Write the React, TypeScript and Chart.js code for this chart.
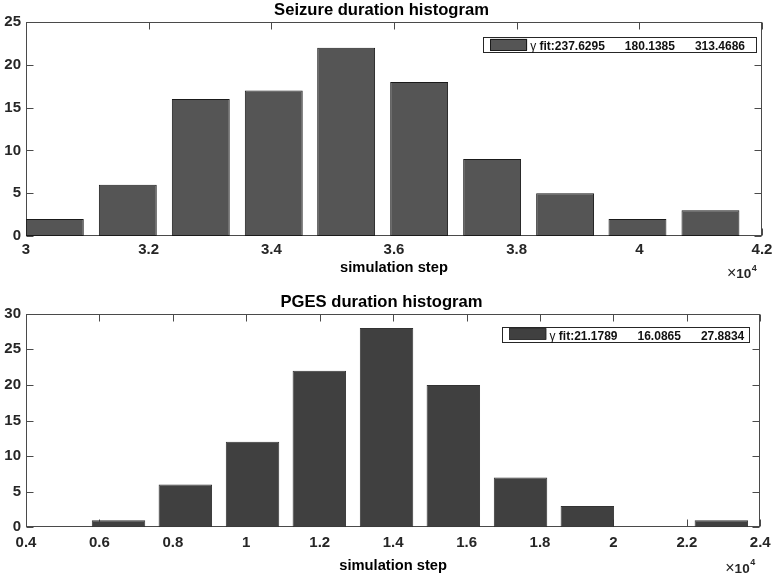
import React, { useEffect, useRef } from 'react';
import { Chart, registerables } from 'chart.js';

Chart.register(...registerables);

// ---------- data ----------
const seizureTitle = 'Seizure duration histogram';
const seizureBinCenters = [3.047, 3.166, 3.285, 3.404, 3.522, 3.641, 3.76, 3.879, 3.997, 4.116];
const seizureCounts = [2, 6, 16, 17, 22, 18, 9, 5, 2, 3];
const seizureFit = [237.6295, 180.1385, 313.4686];
const seizureXTicks = [3, 3.2, 3.4, 3.6, 3.8, 4, 4.2];
const seizureYTicks = [0, 5, 10, 15, 20, 25];

const pgesTitle = 'PGES duration histogram';
const pgesBinCenters = [0.469, 0.652, 0.834, 1.017, 1.199, 1.382, 1.564, 1.747, 1.929, 2.112, 2.294];
const pgesCounts = [0, 1, 6, 12, 22, 28, 20, 7, 3, 0, 1];
const pgesFit = [21.1789, 16.0865, 27.8834];
const pgesXTicks = [0.4, 0.6, 0.8, 1, 1.2, 1.4, 1.6, 1.8, 2, 2.2, 2.4];
const pgesYTicks = [0, 5, 10, 15, 20, 25, 30];

const xLabel = 'simulation step';
const xExponent = '4';

// ---------- styles ----------
const FONT = "Arial, 'Liberation Sans', Helvetica, sans-serif";
const TEXT = '#262626';
const AXIS = '#4a4a4a';

type Cfg = {
  title: string;
  centers: number[];
  counts: number[];
  fit: number[];
  xTicks: number[];
  yTicks: number[];
  fill: string;
  edge: string;
  titlePad: { top: number; bottom: number };
  xScaleHeight: number;
  xTickPad: number;
  xTitlePad: number;
  legendInsetRight: number;
  legendInsetTop: number;
  legendPadRight: number;
  expBaseline: number;
};

const fmt = (v: number) => String(Number(Number(v).toFixed(3)));

function makePlugin(cfg: Cfg) {
  return {
    id: 'matlabDecor',
    beforeDatasetsDraw(chart: any) {
      const { ctx, chartArea } = chart;
      const L = Math.round(chartArea.left) + 0.5;
      const R = Math.round(chartArea.right) - 0.5;
      const T = Math.round(chartArea.top) + 0.5;
      const B = Math.round(chartArea.bottom) - 0.5;
      ctx.save();
      ctx.strokeStyle = AXIS;
      ctx.lineWidth = 1;
      const tl = 7;
      const xs = chart.scales.x;
      const ys = chart.scales.y;
      ctx.beginPath();
      xs.ticks.forEach((t: any) => {
        const p = Math.round(xs.getPixelForValue(t.value)) + 0.5;
        ctx.moveTo(p, B);
        ctx.lineTo(p, B - tl);
        ctx.moveTo(p, T);
        ctx.lineTo(p, T + tl);
      });
      ys.ticks.forEach((t: any) => {
        const p = Math.round(ys.getPixelForValue(t.value)) + 0.5;
        ctx.moveTo(L, p);
        ctx.lineTo(L + tl, p);
        ctx.moveTo(R, p);
        ctx.lineTo(R - tl, p);
      });
      ctx.stroke();
      ctx.strokeRect(L, T, R - L, B - T);
      ctx.restore();
    },
    afterDraw(chart: any) {
      const { ctx, chartArea } = chart;
      ctx.save();
      // legend
      const ds = chart.data.datasets[0];
      const bold = `bold 12px ${FONT}`;
      const normal = `12px ${FONT}`;
      ctx.font = normal;
      const gamma = '\u03b3';
      const gW = ctx.measureText(gamma + ' ').width;
      ctx.font = bold;
      const parts = [`fit:${cfg.fit[0].toFixed(4)}`, cfg.fit[1].toFixed(4), cfg.fit[2].toFixed(4)];
      const widths = parts.map((p) => ctx.measureText(p).width);
      const gap = 20;
      const textW = gW + widths[0] + gap + widths[1] + gap + widths[2];
      const swL = 7, swW = 37, swGap = 3;
      const boxW = swL + swW + swGap + textW + cfg.legendPadRight;
      const boxR = chartArea.right - cfg.legendInsetRight;
      const boxL = boxR - boxW;
      const boxT = chartArea.top + cfg.legendInsetTop;
      const boxH = 15.4;
      ctx.fillStyle = '#ffffff';
      ctx.fillRect(boxL, boxT, boxW, boxH);
      ctx.strokeStyle = '#262626';
      ctx.lineWidth = 1;
      ctx.strokeRect(Math.round(boxL) + 0.5, Math.round(boxT) + 0.5, Math.round(boxW), Math.round(boxH));
      ctx.fillStyle = ds.backgroundColor;
      ctx.fillRect(boxL + swL, boxT + 1.5, swW, 11.5);
      ctx.strokeStyle = ds.borderColor;
      ctx.strokeRect(Math.round(boxL + swL) + 0.5, Math.round(boxT + 1.5) + 0.5, swW - 1, 11);
      let x = boxL + swL + swW + swGap;
      const base = boxT + 13;
      ctx.fillStyle = '#111111';
      ctx.textBaseline = 'alphabetic';
      ctx.textAlign = 'left';
      ctx.font = normal;
      ctx.fillText(gamma, x, base);
      x += gW;
      ctx.font = bold;
      ctx.fillText(parts[0], x, base);
      x += widths[0] + gap;
      ctx.fillText(parts[1], x, base);
      x += widths[1] + gap;
      ctx.fillText(parts[2], x, base);

      // x10^4
      ctx.fillStyle = TEXT;
      let ex = chartArea.right - 35;
      const eb = chartArea.bottom + cfg.expBaseline;
      ctx.font = `16px ${FONT}`;
      ctx.fillText('\u00d7', ex, eb);
      ex += ctx.measureText('\u00d7').width;
      ctx.font = `bold 13.5px ${FONT}`;
      ctx.fillText('10', ex, eb);
      ex += ctx.measureText('10').width + 0.5;
      ctx.font = `bold 9px ${FONT}`;
      ctx.fillText(xExponent, ex, eb - 7.6);
      ctx.restore();
    },
  };
}

function buildConfig(cfg: Cfg): any {
  return {
    type: 'bar',
    data: {
      datasets: [
        {
          label: `\u03b3 fit:${cfg.fit[0]}`,
          data: cfg.centers.map((c, i) => ({ x: c, y: cfg.counts[i] })),
          backgroundColor: cfg.fill,
          borderColor: cfg.edge,
          borderWidth: 1,
          borderSkipped: false,
          barPercentage: 0.8,
          categoryPercentage: 1.0,
        },
      ],
    },
    options: {
      responsive: false,
      animation: false,
      devicePixelRatio: 1,
      layout: { padding: { left: 0, right: 14, top: 0, bottom: 0 } },
      plugins: {
        legend: { display: false },
        tooltip: { enabled: false },
        title: {
          display: true,
          text: cfg.title,
          color: '#000000',
          font: { family: FONT, size: 16.6, weight: 'bold', lineHeight: 1.2 },
          padding: cfg.titlePad,
        },
      },
      scales: {
        x: {
          type: 'linear',
          position: 'bottom',
          offset: false,
          min: cfg.xTicks[0],
          max: cfg.xTicks[cfg.xTicks.length - 1],
          grid: { display: false, drawTicks: false },
          border: { display: false },
          afterBuildTicks: (s: any) => {
            s.ticks = cfg.xTicks.map((v) => ({ value: v }));
          },
          afterFit: (s: any) => {
            s.height = cfg.xScaleHeight;
          },
          ticks: {
            autoSkip: false,
            maxRotation: 0,
            padding: cfg.xTickPad,
            color: TEXT,
            font: { family: FONT, size: 15, weight: 'bold', lineHeight: 1.2 },
            callback: (v: any) => fmt(v),
          },
          title: {
            display: true,
            text: xLabel,
            color: '#000000',
            font: { family: FONT, size: 14.7, weight: 'bold', lineHeight: 1.2 },
            padding: { top: 0, bottom: cfg.xTitlePad },
          },
        },
        y: {
          type: 'linear',
          min: cfg.yTicks[0],
          max: cfg.yTicks[cfg.yTicks.length - 1],
          grid: { display: false, drawTicks: false },
          border: { display: false },
          afterBuildTicks: (s: any) => {
            s.ticks = cfg.yTicks.map((v) => ({ value: v }));
          },
          afterFit: (s: any) => {
            s.width = 26;
          },
          ticks: {
            padding: 5,
            color: TEXT,
            font: { family: FONT, size: 15, weight: 'bold', lineHeight: 1.2 },
            callback: (v: any) => fmt(v),
          },
        },
      },
    },
    plugins: [makePlugin(cfg)],
  };
}

const topCfg: Cfg = {
  title: seizureTitle,
  centers: seizureBinCenters,
  counts: seizureCounts,
  fit: seizureFit,
  xTicks: seizureXTicks,
  yTicks: seizureYTicks,
  fill: '#555555',
  edge: '#1a1a1a',
  titlePad: { top: 0.1, bottom: 2.0 },
  xScaleHeight: 52,
  xTickPad: 4.6,
  xTitlePad: 10.8,
  legendInsetRight: 6,
  legendInsetTop: 15.3,
  legendPadRight: 11,
  expBaseline: 42.3,
};

const bottomCfg: Cfg = {
  title: pgesTitle,
  centers: pgesBinCenters,
  counts: pgesCounts,
  fit: pgesFit,
  xTicks: pgesXTicks,
  yTicks: pgesYTicks,
  fill: '#404040',
  edge: '#333333',
  titlePad: { top: 4.4, bottom: 1.4 },
  xScaleHeight: 48.7,
  xTickPad: 6.3,
  xTitlePad: 0.8,
  legendInsetRight: 11,
  legendInsetTop: 13,
  legendPadRight: 5,
  expBaseline: 45.2,
};

function Panel({ cfg, top }: { cfg: Cfg; top: number }) {
  const ref = useRef<HTMLCanvasElement | null>(null);
  useEffect(() => {
    if (!ref.current) return;
    const chart = new Chart(ref.current, buildConfig(cfg));
    return () => chart.destroy();
  }, [cfg]);
  return (
    <canvas
      ref={ref}
      width={777}
      height={288}
      style={{ position: 'absolute', left: 0, top, width: 777, height: 288, display: 'block' }}
    />
  );
}

export default function App() {
  return (
    <div style={{ position: 'absolute', left: 0, top: 0, width: 777, height: 576, background: '#ffffff', overflow: 'hidden' }}>
      <Panel cfg={topCfg} top={0} />
      <Panel cfg={bottomCfg} top={288} />
    </div>
  );
}
